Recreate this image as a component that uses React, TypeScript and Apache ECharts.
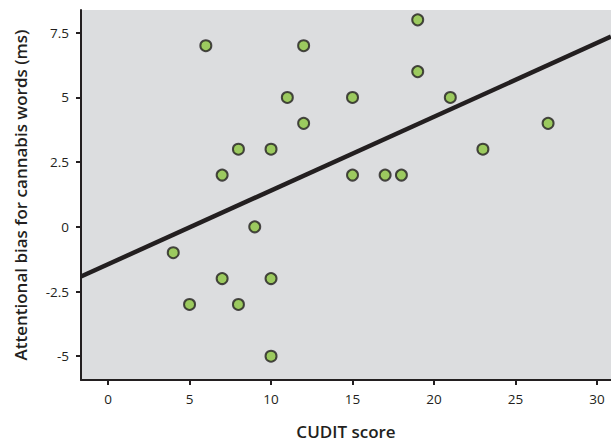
import React, { useEffect, useRef } from "react";
import * as echarts from "echarts";

const cuditScores = [4, 5, 6, 7, 7, 8, 8, 9, 10, 10, 10, 11, 12, 12, 15, 15, 17, 18, 19, 19, 21, 23, 27];
const biasValues = [-1, -3, 7, 2, -2, 3, -3, 0, 3, -2, -5, 5, 7, 4, 5, 2, 2, 2, 8, 6, 5, 3, 4];
const xTicks = [0, 5, 10, 15, 20, 25, 30];
const yTicks = [-5, -2.5, 0, 2.5, 5, 7.5];
const fitLineX = [-1.66, 30.86];
const fitLineY = [-1.92, 7.35];

export default function App() {
  const ref = useRef<HTMLDivElement>(null);
  useEffect(() => {
    if (!ref.current) return;
    const chart = echarts.init(ref.current, undefined, { renderer: "svg" });
    const font = "'Open Sans', Lato, sans-serif";
    chart.setOption({
      animation: false,
      grid: { left: 81, top: 10, right: 0, bottom: 62, show: true, backgroundColor: "#dcdddf", borderWidth: 0 },
      xAxis: {
        type: "value",
        min: fitLineX[0],
        max: fitLineX[1],
        name: "CUDIT score",
        nameLocation: "middle",
        nameGap: 43,
        nameTextStyle: { fontFamily: font, fontWeight: 600, fontSize: 17, color: "#231f20" },
        axisLine: { show: true, onZero: false, lineStyle: { color: "#231f20", width: 2 } },
        axisTick: { show: true, length: 5, lineStyle: { color: "#231f20", width: 2 }, customValues: xTicks },
        axisLabel: { customValues: xTicks, margin: 12, fontFamily: font, fontSize: 13.5, color: "#231f20" },
        splitLine: { show: false },
      },
      yAxis: {
        type: "value",
        min: -5.92,
        max: 8.38,
        name: "Attentional bias for cannabis words (ms)",
        nameLocation: "middle",
        nameGap: 52,
        nameTextStyle: { fontFamily: font, fontWeight: 600, fontSize: 17, color: "#231f20" },
        axisLine: { show: true, onZero: false, lineStyle: { color: "#231f20", width: 2 } },
        axisTick: { show: true, length: 5, lineStyle: { color: "#231f20", width: 2 }, customValues: yTicks },
        axisLabel: { customValues: yTicks, margin: 12, fontFamily: font, fontSize: 13.5, color: "#231f20" },
        splitLine: { show: false },
      },
      series: [
        {
          type: "line",
          data: fitLineX.map((x, i) => [x, fitLineY[i]]),
          symbol: "none",
          lineStyle: { color: "#231f20", width: 4.5 },
          silent: true,
          z: 2,
        },
        {
          type: "scatter",
          data: cuditScores.map((x, i) => [x, biasValues[i]]),
          symbolSize: 11,
          itemStyle: { color: "#8cc63f", borderColor: "#231f20", borderWidth: 2 },
          z: 3,
        },
      ],
    });
    return () => chart.dispose();
  }, []);
  return <div ref={ref} style={{ width: 611, height: 445, position: "absolute", left: 0, top: 0 }} />;
}
